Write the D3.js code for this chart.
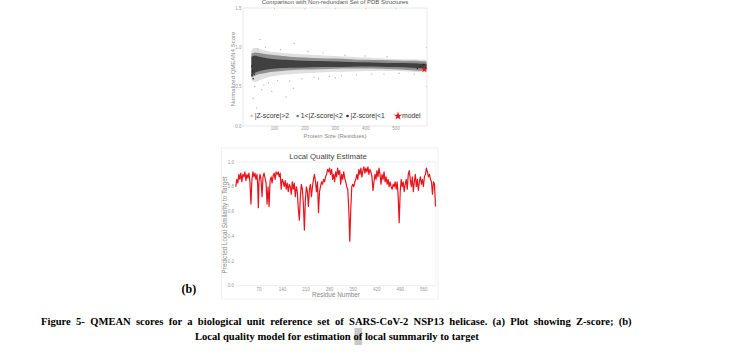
<!DOCTYPE html>
<html>
<head>
<meta charset="utf-8">
<script src="https://cdn.jsdelivr.net/npm/d3@7"></script>
<style>
  body { margin: 0; background: #fff; }
  svg { display: block; }
  .sans { font-family: "Liberation Sans", Arial, sans-serif; }
  .serif { font-family: "Liberation Serif", "Times New Roman", serif; font-weight: bold; }
</style>
</head>
<body>
<svg id="fig" width="745" height="359"></svg>
<script>

/****** Data ******/

// (a) QMEAN4 cloud: envelopes of the reference set per protein size
var cloudSize = [24, 35, 50, 75, 100, 150, 200, 250, 300, 350, 400, 450, 500, 550, 600];
var lightHi   = [0.97, 1.00, 0.98, 0.95, 0.94, 0.92, 0.91, 0.90, 0.89, 0.88, 0.87, 0.86, 0.85, 0.85, 0.84];
var lightLo   = [0.58, 0.55, 0.58, 0.62, 0.64, 0.66, 0.67, 0.68, 0.69, 0.69, 0.70, 0.70, 0.70, 0.69, 0.68];
var midHi     = [0.92, 0.94, 0.93, 0.91, 0.90, 0.88, 0.87, 0.86, 0.86, 0.85, 0.84, 0.84, 0.83, 0.83, 0.82];
var midLo     = [0.62, 0.64, 0.66, 0.68, 0.69, 0.71, 0.72, 0.72, 0.73, 0.73, 0.73, 0.73, 0.72, 0.71, 0.70];
var darkHi    = [0.88, 0.90, 0.88, 0.86, 0.85, 0.84, 0.83, 0.825, 0.82, 0.815, 0.81, 0.805, 0.80, 0.80, 0.79];
var darkLo    = [0.64, 0.68, 0.70, 0.72, 0.73, 0.74, 0.745, 0.75, 0.75, 0.755, 0.755, 0.755, 0.75, 0.74, 0.73];

// scattered structures outside the dense band [size, score]
var lightOutliers = [[30, 0.35], [41, 0.23], [58, 0.46], [91, 0.44], [138, 0.37], [162, 0.48],
  [52, 1.10], [165, 1.05], [45, 0.98], [70, 1.00], [120, 0.97], [210, 0.95], [260, 0.93],
  [332, 0.90], [398, 0.89], [470, 0.88], [35, 0.50], [80, 0.55], [110, 0.58], [190, 0.60],
  [230, 0.62], [280, 0.63], [320, 0.64], [370, 0.65], [420, 0.66], [460, 0.66], [510, 0.67],
  [560, 0.66], [65, 0.52], [150, 0.57], [245, 0.60], [300, 0.61]];
var darkOutliers = [[26, 0.64], [28, 0.70], [30, 0.60], [33, 0.66], [25, 0.76],
  [570, 0.73], [580, 0.76], [590, 0.78], [596, 0.74]];
var model = [593, 0.72];

var legendLabels = ["|Z-score|>2", "1<|Z-score|<2", "|Z-score|<1", "model"];
var topXTicks = [100, 200, 300, 400, 500];
var topYTicks = [0.0, 0.5, 1.0, 1.5];

// (b) local quality estimate per residue
var residue = [1, 4, 7, 10, 13, 16, 19, 22, 25, 28, 31, 34, 37, 40, 43, 46, 49, 52, 55, 58,
  61, 64, 66, 68, 70, 73, 76, 79, 82, 85, 88, 91, 94, 97, 100, 103, 106, 109, 112, 115,
  118, 121, 124, 127, 130, 133, 136, 139, 142, 145, 148, 151, 154, 157, 160, 163, 166, 169, 172, 175,
  178, 181, 184, 187, 190, 193, 196, 199, 202, 205, 208, 211, 214, 217, 220, 223, 226, 229, 232, 235,
  238, 241, 244, 247, 250, 253, 256, 259, 262, 265, 268, 271, 274, 277, 280, 283, 286, 289, 292, 295,
  298, 301, 304, 307, 310, 313, 316, 319, 322, 325, 328, 331, 334, 337, 340, 343, 346, 349, 352, 355,
  358, 361, 364, 367, 370, 373, 376, 379, 382, 385, 388, 391, 394, 397, 400, 403, 406, 409, 412, 415,
  418, 421, 424, 427, 430, 433, 436, 439, 442, 445, 448, 451, 454, 457, 460, 463, 466, 469, 472, 475,
  478, 481, 484, 487, 490, 493, 496, 499, 502, 505, 508, 511, 514, 517, 520, 523, 526, 529, 532, 535,
  538, 541, 544, 547, 550, 553, 556, 559, 562, 565, 568, 571, 574, 577, 580, 583, 586, 589, 592, 595];
var localScore = [0.80, 0.86, 0.83, 0.90, 0.86, 0.91, 0.84, 0.90, 0.88, 0.92, 0.85, 0.90, 0.87, 0.91, 0.84, 0.66, 0.86, 0.92, 0.88, 0.91,
  0.86, 0.90, 0.82, 0.63, 0.84, 0.90, 0.86, 0.72, 0.88, 0.91, 0.87, 0.83, 0.66, 0.80, 0.64, 0.85, 0.88, 0.83, 0.89, 0.91,
  0.86, 0.92, 0.90, 0.92, 0.88, 0.91, 0.78, 0.86, 0.84, 0.80, 0.85, 0.78, 0.83, 0.76, 0.82, 0.80, 0.74, 0.84, 0.78, 0.83,
  0.72, 0.80, 0.76, 0.62, 0.53, 0.72, 0.82, 0.78, 0.66, 0.45, 0.70, 0.80, 0.76, 0.64, 0.78, 0.82, 0.72, 0.80, 0.86, 0.90,
  0.84, 0.76, 0.84, 0.59, 0.76, 0.80, 0.84, 0.82, 0.86, 0.84, 0.88, 0.90, 0.94, 0.92, 0.95, 0.90, 0.94, 0.86, 0.90, 0.84,
  0.92, 0.88, 0.95, 0.90, 0.93, 0.82, 0.90, 0.86, 0.92, 0.87, 0.84, 0.80, 0.78, 0.62, 0.36, 0.62, 0.80, 0.82, 0.80, 0.84,
  0.86, 0.90, 0.86, 0.94, 0.90, 0.95, 0.88, 0.93, 0.96, 0.91, 0.95, 0.92, 0.96, 0.90, 0.94, 0.92, 0.88, 0.77, 0.84, 0.90,
  0.86, 0.93, 0.88, 0.95, 0.90, 0.82, 0.90, 0.86, 0.92, 0.84, 0.88, 0.82, 0.86, 0.80, 0.84, 0.80, 0.78, 0.82, 0.80, 0.84,
  0.78, 0.84, 0.72, 0.51, 0.76, 0.86, 0.80, 0.84, 0.76, 0.82, 0.86, 0.78, 0.90, 0.93, 0.86, 0.80, 0.88, 0.76, 0.84, 0.90,
  0.80, 0.86, 0.77, 0.84, 0.88, 0.82, 0.86, 0.80, 0.88, 0.90, 0.95, 0.92, 0.88, 0.90, 0.86, 0.84, 0.74, 0.84, 0.82, 0.64];

var botXTicks = [70, 140, 210, 280, 350, 420, 490, 560];
var botYTicks = [0.0, 0.2, 0.4, 0.6, 0.8, 1.0];

var captionLines = [
  "Figure 5- QMEAN scores for a biological unit reference set of SARS-CoV-2 NSP13 helicase. (a) Plot showing Z-score; (b)",
  "Local quality model for estimation of local summarily to target"
];

/****** Draw ******/

var svg = d3.select("#fig");
svg.append("rect").attr("width", 745).attr("height", 359).attr("fill", "#fff");

var RED = "#e8141c";

function drawTopChart() {
  var x = d3.scaleLinear().domain([0, 600]).range([244.1, 426.5]),
      y = d3.scaleLinear().domain([0, 1.5]).range([126, 8]);
  var g = svg.append("g").attr("class", "sans");

  // plot frame
  g.append("rect")
    .attr("x", 243).attr("y", 8).attr("width", 184).attr("height", 118)
    .attr("fill", "none").attr("stroke", "#e4e4e4").attr("stroke-width", 0.8);

  // tiny ticks along the top and right edges
  g.selectAll(".tt").data(topXTicks).enter().append("line")
    .attr("x1", function (d) { return x(d); }).attr("x2", function (d) { return x(d); })
    .attr("y1", 8).attr("y2", 9.5).attr("stroke", "#bbb").attr("stroke-width", 0.6);
  g.selectAll(".rt").data(topYTicks.slice(1, 3)).enter().append("line")
    .attr("x1", 425.5).attr("x2", 427)
    .attr("y1", function (d) { return y(d); }).attr("y2", function (d) { return y(d); })
    .attr("stroke", "#bbb").attr("stroke-width", 0.6);

  // bands of the reference set
  function band(hi, lo) {
    return d3.area()
      .x(function (d, i) { return x(cloudSize[i]); })
      .y0(function (d, i) { return y(lo[i]); })
      .y1(function (d, i) { return y(hi[i]); })
      .curve(d3.curveBasis)(cloudSize);
  }
  g.append("path").attr("d", band(lightHi, lightLo)).attr("fill", "#d2d2d2").attr("opacity", 0.7);
  g.append("path").attr("d", band(midHi, midLo)).attr("fill", "#8f8f8f");
  g.append("path").attr("d", band(darkHi, darkLo)).attr("fill", "#404040");

  g.selectAll(".lo").data(lightOutliers).enter().append("circle")
    .attr("cx", function (d) { return x(d[0]); }).attr("cy", function (d) { return y(d[1]); })
    .attr("r", 0.7).attr("fill", "#b5b5b5");
  g.selectAll(".do").data(darkOutliers).enter().append("circle")
    .attr("cx", function (d) { return x(d[0]); }).attr("cy", function (d) { return y(d[1]); })
    .attr("r", 0.8).attr("fill", "#222");

  // model star
  g.append("path")
    .attr("d", d3.symbol().type(d3.symbolStar).size(14)())
    .attr("transform", "translate(" + x(model[0]) + "," + y(model[1]) + ")")
    .attr("fill", RED);

  // tick labels
  g.selectAll(".xl").data(topXTicks).enter().append("text")
    .attr("x", function (d) { return x(d); }).attr("y", 130)
    .attr("text-anchor", "middle").attr("font-size", 4.5).attr("fill", "#999")
    .text(function (d) { return d; });
  g.selectAll(".yl").data(topYTicks).enter().append("text")
    .attr("x", 241.5).attr("y", function (d) { return y(d) + 1.6; })
    .attr("text-anchor", "end").attr("font-size", 4.5).attr("fill", "#999")
    .text(function (d) { return d.toFixed(1); });

  // titles
  g.append("text").attr("x", 335).attr("y", 4.2).attr("text-anchor", "middle")
    .attr("font-size", 6).attr("fill", "#555")
    .text("Comparison with Non-redundant Set of PDB Structures");
  g.append("text").attr("x", 335).attr("y", 138.2).attr("text-anchor", "middle")
    .attr("font-size", 6).attr("fill", "#888").text("Protein Size (Residues)");
  g.append("text").attr("transform", "translate(235.2,69) rotate(-90)")
    .attr("text-anchor", "middle").attr("font-size", 6).attr("fill", "#888")
    .text("Normalized QMEAN4 Score");

  // legend
  var legX = [251.7, 297.7, 347.5, 398],
      legCol = ["#c4c4c4", "#7a7a7a", "#2a2a2a"];
  legendLabels.forEach(function (lab, i) {
    if (i < 3) {
      g.append("circle").attr("cx", legX[i]).attr("cy", 116).attr("r", 1.3).attr("fill", legCol[i]);
    } else {
      g.append("path").attr("d", d3.symbol().type(d3.symbolStar).size(22)())
        .attr("transform", "translate(" + legX[i] + ",116)").attr("fill", RED);
    }
    g.append("text").attr("x", legX[i] + (i < 3 ? 3 : 4)).attr("y", 118.4)
      .attr("font-size", 6.8).attr("fill", "#333").text(lab);
  });
}

function drawBottomChart() {
  var x = d3.scaleLinear().domain([1, 595]).range([235.8, 435.5]),
      y = d3.scaleLinear().domain([0, 1]).range([285.7, 162]);
  var g = svg.append("g").attr("class", "sans");

  // outer frame and plot edges
  g.append("rect").attr("x", 221.5).attr("y", 148).attr("width", 216.5).attr("height", 151)
    .attr("fill", "none").attr("stroke", "#ededed").attr("stroke-width", 0.8);
  g.append("line").attr("x1", 236).attr("x2", 436).attr("y1", y(1)).attr("y2", y(1))
    .attr("stroke", "#e2e2e2").attr("stroke-width", 0.6);
  g.append("line").attr("x1", 236).attr("x2", 436).attr("y1", y(0)).attr("y2", y(0))
    .attr("stroke", "#e2e2e2").attr("stroke-width", 0.6);
  g.append("line").attr("x1", 436).attr("x2", 436).attr("y1", y(1)).attr("y2", y(0))
    .attr("stroke", "#ececec").attr("stroke-width", 0.6);

  var line = d3.line()
    .x(function (d, i) { return x(residue[i]); })
    .y(function (d) { return y(d); });
  g.append("path").attr("d", line(localScore))
    .attr("fill", "none").attr("stroke", RED).attr("stroke-width", 1.2)
    .attr("stroke-linejoin", "round");

  g.selectAll(".xl").data(botXTicks).enter().append("text")
    .attr("x", function (d) { return x(d); }).attr("y", 290.8)
    .attr("text-anchor", "middle").attr("font-size", 4.5).attr("fill", "#999")
    .text(function (d) { return d; });
  g.selectAll(".yl").data(botYTicks).enter().append("text")
    .attr("x", 231).attr("y", function (d) { return y(d) + 1.6; })
    .attr("text-anchor", "middle").attr("font-size", 4.5).attr("fill", "#999")
    .text(function (d) { return d.toFixed(1); });

  g.append("text").attr("x", 328).attr("y", 158.5).attr("text-anchor", "middle")
    .attr("font-size", 7.8).attr("fill", "#444").text("Local Quality Estimate");
  g.append("text").attr("x", 336).attr("y", 297.3).attr("text-anchor", "middle")
    .attr("font-size", 6.4).attr("fill", "#888").text("Residue Number");
  g.append("text").attr("transform", "translate(227.3,225) rotate(-90)")
    .attr("text-anchor", "middle").attr("font-size", 6.3).attr("fill", "#888")
    .text("Predicted Local Similarity to Target");
}

function drawCaption() {
  var g = svg.append("g").attr("class", "serif");
  g.append("text").attr("x", 181.5).attr("y", 293).attr("font-size", 12).attr("fill", "#000").text("(b)");
  // grey highlight behind "of"
  g.append("rect").attr("x", 354.5).attr("y", 328).attr("width", 7.5).attr("height", 17).attr("fill", "#c8c8c8");
  // first line is justified across the text block, second line centred
  g.append("text").attr("x", 41).attr("y", 324.5).attr("font-size", 10.6)
    .attr("word-spacing", 2.6).attr("fill", "#000").text(captionLines[0]);
  g.append("text").attr("x", 195).attr("y", 340).attr("font-size", 10.6)
    .attr("fill", "#000").text(captionLines[1]);
}

drawTopChart();
drawBottomChart();
drawCaption();
</script>
</body>
</html>
